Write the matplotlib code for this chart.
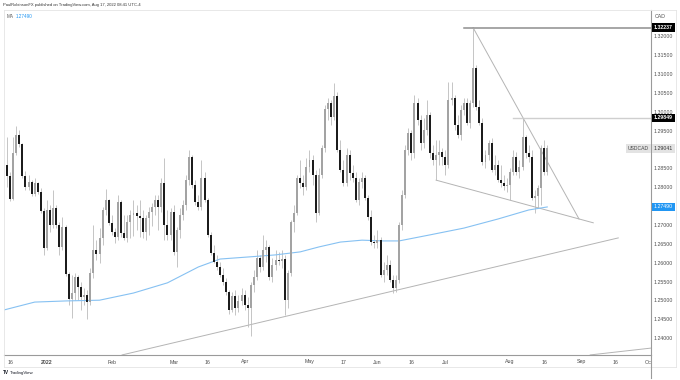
import matplotlib
matplotlib.use('Agg')
import matplotlib.pyplot as plt
from matplotlib.transforms import Bbox, blended_transform_factory
from matplotlib.lines import Line2D
import numpy as np
import pandas as pd

plt.rcParams['font.family'] = ['Liberation Sans', 'DejaVu Sans']

# daily USDCAD bars, Dec 15 2021 .. Aug 17 2022
dates = pd.bdate_range('2021-12-15', '2022-08-17')

opens = [1.2860, 1.2831, 1.2770, 1.2892, 1.2940, 1.2916, 1.2831, 1.2802, 1.2815, 1.2783,
         1.2812, 1.2789, 1.2738, 1.2640, 1.2741, 1.2701, 1.2746, 1.2701, 1.2643, 1.2696,
         1.2571, 1.2505, 1.2521, 1.2563, 1.2537, 1.2510, 1.2516, 1.2497, 1.2574, 1.2635,
         1.2624, 1.2667, 1.2741, 1.2767, 1.2706, 1.2683, 1.2669, 1.2762, 1.2680, 1.2667,
         1.2709, 1.2728, 1.2733, 1.2725, 1.2720, 1.2683, 1.2720, 1.2736, 1.2749, 1.2767,
         1.2749, 1.2812, 1.2701, 1.2675, 1.2736, 1.2630, 1.2688, 1.2728, 1.2754, 1.2820,
         1.2881, 1.2807, 1.2762, 1.2749, 1.2826, 1.2767, 1.2675, 1.2627, 1.2603, 1.2590,
         1.2569, 1.2550, 1.2524, 1.2476, 1.2513, 1.2481, 1.2500, 1.2516, 1.2489, 1.2481,
         1.2542, 1.2563, 1.2614, 1.2590, 1.2635, 1.2643, 1.2563, 1.2595, 1.2609, 1.2606,
         1.2611, 1.2502, 1.2574, 1.2709, 1.2733, 1.2826, 1.2812, 1.2802, 1.2855, 1.2873,
         1.2834, 1.2733, 1.2834, 1.2905, 1.3008, 1.3024, 1.2987, 1.3043, 1.2900, 1.2847,
         1.2812, 1.2887, 1.2839, 1.2826, 1.2767, 1.2815, 1.2826, 1.2773, 1.2722, 1.2656,
         1.2653, 1.2661, 1.2569, 1.2582, 1.2595, 1.2555, 1.2534, 1.2555, 1.2701, 1.2781,
         1.2900, 1.2945, 1.2892, 1.3024, 1.2979, 1.2918, 1.2953, 1.2993, 1.2892, 1.2873,
         1.2887, 1.2895, 1.2881, 1.2860, 1.3032, 1.3038, 1.2966, 1.2940, 1.3006, 1.3024,
         1.2971, 1.3024, 1.3117, 1.3014, 1.2971, 1.2868, 1.2887, 1.2918, 1.2847, 1.2860,
         1.2820, 1.2812, 1.2804, 1.2807, 1.2842, 1.2881, 1.2842, 1.2855, 1.2934, 1.2892,
         1.2881, 1.2773, 1.2778, 1.2799, 1.2905, 1.2842]
highs = [1.2934, 1.2842, 1.2934, 1.2963, 1.2953, 1.2918, 1.2844, 1.2834, 1.2820, 1.2826,
         1.2815, 1.2799, 1.2746, 1.2767, 1.2754, 1.2794, 1.2754, 1.2709, 1.2722, 1.2701,
         1.2577, 1.2569, 1.2574, 1.2569, 1.2550, 1.2534, 1.2529, 1.2587, 1.2701, 1.2661,
         1.2693, 1.2749, 1.2797, 1.2770, 1.2728, 1.2693, 1.2781, 1.2767, 1.2728, 1.2728,
         1.2741, 1.2767, 1.2754, 1.2767, 1.2741, 1.2728, 1.2749, 1.2759, 1.2781, 1.2781,
         1.2826, 1.2879, 1.2741, 1.2746, 1.2754, 1.2696, 1.2746, 1.2767, 1.2834, 1.2900,
         1.2887, 1.2820, 1.2781, 1.2873, 1.2842, 1.2773, 1.2683, 1.2648, 1.2622, 1.2603,
         1.2587, 1.2561, 1.2529, 1.2524, 1.2529, 1.2516, 1.2534, 1.2529, 1.2510, 1.2550,
         1.2582, 1.2635, 1.2622, 1.2675, 1.2661, 1.2648, 1.2614, 1.2635, 1.2630, 1.2635,
         1.2622, 1.2582, 1.2714, 1.2754, 1.2834, 1.2873, 1.2834, 1.2879, 1.2900, 1.2887,
         1.2847, 1.2852, 1.2913, 1.3019, 1.3038, 1.3032, 1.3077, 1.3054, 1.2926, 1.2873,
         1.2905, 1.2900, 1.2860, 1.2842, 1.2826, 1.2842, 1.2834, 1.2781, 1.2741, 1.2675,
         1.2688, 1.2669, 1.2603, 1.2622, 1.2609, 1.2569, 1.2569, 1.2709, 1.2794, 1.2913,
         1.2958, 1.2953, 1.3046, 1.3038, 1.2993, 1.2985, 1.3032, 1.3001, 1.2913, 1.2926,
         1.2926, 1.2905, 1.2900, 1.3080, 1.3080, 1.3046, 1.2993, 1.3019, 1.3038, 1.3038,
         1.3032, 1.32237, 1.3125, 1.3032, 1.2985, 1.2900, 1.2926, 1.2932, 1.2887, 1.2873,
         1.2860, 1.2834, 1.2826, 1.2852, 1.2900, 1.2895, 1.2873, 1.29849, 1.2940, 1.2913,
         1.2900, 1.2794, 1.2807, 1.2913, 1.2926, 1.2913]
lows = [1.2802, 1.2765, 1.2767, 1.2887, 1.2908, 1.2826, 1.2794, 1.2794, 1.2778, 1.2778,
        1.2783, 1.2733, 1.2622, 1.2635, 1.2683, 1.2693, 1.2693, 1.2622, 1.2635, 1.2566,
        1.2489, 1.2455, 1.2502, 1.2502, 1.2476, 1.2489, 1.2452, 1.2489, 1.2561, 1.2609,
        1.2601, 1.2648, 1.2728, 1.2701, 1.2675, 1.2653, 1.2661, 1.2669, 1.2661, 1.2656,
        1.2667, 1.2672, 1.2688, 1.2669, 1.2667, 1.2661, 1.2675, 1.2699, 1.2728, 1.2688,
        1.2736, 1.2661, 1.2661, 1.2661, 1.2622, 1.2590, 1.2667, 1.2714, 1.2741, 1.2807,
        1.2799, 1.2754, 1.2741, 1.2741, 1.2762, 1.2669, 1.2622, 1.2601, 1.2582, 1.2563,
        1.2542, 1.2516, 1.2465, 1.2471, 1.2463, 1.2471, 1.2489, 1.2476, 1.2431, 1.2407,
        1.2524, 1.2555, 1.2577, 1.2582, 1.2603, 1.2555, 1.2550, 1.2582, 1.2595, 1.2587,
        1.2463, 1.2481, 1.2566, 1.2683, 1.2728, 1.2799, 1.2781, 1.2794, 1.2842, 1.2807,
        1.2709, 1.2728, 1.2826, 1.2895, 1.2979, 1.2966, 1.2979, 1.2895, 1.2842, 1.2804,
        1.2804, 1.2820, 1.2815, 1.2762, 1.2754, 1.2799, 1.2767, 1.2714, 1.2648, 1.2640,
        1.2640, 1.2563, 1.2550, 1.2569, 1.2550, 1.2521, 1.2524, 1.2548, 1.2688, 1.2773,
        1.2887, 1.2873, 1.2879, 1.2966, 1.2900, 1.2905, 1.2940, 1.2879, 1.2860, 1.2820,
        1.2860, 1.2860, 1.2834, 1.2852, 1.3019, 1.2953, 1.2932, 1.2926, 1.2993, 1.2966,
        1.2958, 1.3014, 1.3006, 1.2966, 1.2860, 1.2852, 1.2873, 1.2842, 1.2834, 1.2815,
        1.2802, 1.2794, 1.2789, 1.2767, 1.2834, 1.2834, 1.2826, 1.2847, 1.2879, 1.2868,
        1.2767, 1.2733, 1.2746, 1.2754, 1.2834, 1.2834]
closes = [1.2831, 1.2770, 1.2892, 1.2940, 1.2916, 1.2831, 1.2802, 1.2815, 1.2783, 1.2812,
          1.2789, 1.2738, 1.2640, 1.2741, 1.2701, 1.2746, 1.2701, 1.2643, 1.2696, 1.2571,
          1.2505, 1.2521, 1.2563, 1.2537, 1.2510, 1.2516, 1.2497, 1.2574, 1.2635, 1.2624,
          1.2667, 1.2741, 1.2767, 1.2706, 1.2683, 1.2669, 1.2762, 1.2680, 1.2667, 1.2709,
          1.2728, 1.2733, 1.2725, 1.2720, 1.2683, 1.2720, 1.2736, 1.2749, 1.2767, 1.2749,
          1.2812, 1.2701, 1.2675, 1.2736, 1.2630, 1.2688, 1.2728, 1.2754, 1.2820, 1.2881,
          1.2807, 1.2762, 1.2749, 1.2826, 1.2767, 1.2675, 1.2627, 1.2603, 1.2590, 1.2569,
          1.2550, 1.2524, 1.2476, 1.2513, 1.2481, 1.2500, 1.2516, 1.2489, 1.2481, 1.2542,
          1.2563, 1.2614, 1.2590, 1.2635, 1.2643, 1.2563, 1.2595, 1.2609, 1.2606, 1.2611,
          1.2502, 1.2574, 1.2709, 1.2733, 1.2826, 1.2812, 1.2802, 1.2855, 1.2873, 1.2834,
          1.2733, 1.2834, 1.2905, 1.3008, 1.3024, 1.2987, 1.3043, 1.2900, 1.2847, 1.2812,
          1.2887, 1.2839, 1.2826, 1.2767, 1.2815, 1.2826, 1.2773, 1.2722, 1.2656, 1.2653,
          1.2661, 1.2569, 1.2582, 1.2595, 1.2555, 1.2534, 1.2555, 1.2701, 1.2781, 1.2900,
          1.2945, 1.2892, 1.3024, 1.2979, 1.2918, 1.2953, 1.2993, 1.2892, 1.2873, 1.2887,
          1.2895, 1.2881, 1.2860, 1.3032, 1.3038, 1.2966, 1.2940, 1.3006, 1.3024, 1.2971,
          1.3024, 1.3117, 1.3014, 1.2971, 1.2868, 1.2887, 1.2918, 1.2847, 1.2860, 1.2820,
          1.2812, 1.2804, 1.2807, 1.2842, 1.2881, 1.2842, 1.2855, 1.2934, 1.2892, 1.2881,
          1.2773, 1.2778, 1.2799, 1.2905, 1.2842, 1.29041]

# moving average, read at a few bars
ma_bar = [-1, 9, 19, 30, 41, 52, 62, 69, 79, 87, 95, 101, 108, 115, 122, 127, 137, 148, 159, 169, 175]
ma_val = [1.2476, 1.2497, 1.2500, 1.2502, 1.2521, 1.2548, 1.2590, 1.2611, 1.2617, 1.2622, 1.2630,
          1.2643, 1.2656, 1.2661, 1.2659, 1.2659, 1.2675, 1.2693, 1.2717, 1.2741, 1.2749]

# drawn trend lines: (bar0, price0, bar1, price1)
top_level = 1.32237
mid_level = 1.29849
last_price = 1.29041
ma_last = 1.27490
falling_line = (151, 1.32237, 185.3, 1.2717)
wedge_line = (139, 1.2820, 189.9, 1.2707)
support_line = (37.3, 1.2357, 198, 1.2667)
lower_line = (188.9, 1.2357, 215, 1.2381)

# price scale labels (1.27500 and 1.29000 sit under the tags)
scale_prices = [1.24, 1.245, 1.25, 1.255, 1.26, 1.265, 1.27, 1.28, 1.285,
                1.295, 1.30, 1.305, 1.31, 1.315, 1.32]

tick_dates = ['2021-12-16', '2022-01-03', '2022-02-01', '2022-03-01', '2022-03-16', '2022-04-01',
              '2022-05-02', '2022-05-17', '2022-06-01', '2022-06-16', '2022-07-01', '2022-08-01',
              '2022-08-16', '2022-09-01', '2022-09-16', '2022-10-03']
tick_text = ['16', '2022', 'Feb', 'Mar', '16', 'Apr', 'May', '17', 'Jun', '16', 'Jul', 'Aug',
             '16', 'Sep', '16', 'Oct']

W, H = 680, 380
def fx(px):
    return px / W
def fy(py):
    return 1 - py / H

fig = plt.figure(figsize=(6.8, 3.8), dpi=100)
ax = fig.add_axes([fx(4), fy(355), (651 - 4) / W, (355 - 10) / H])

o = np.array(opens); h = np.array(highs); l = np.array(lows); c = np.array(closes)
x = np.arange(len(dates))
up = c >= o
body_col = np.where(up, '#a3a3a3', '#1c1c1c')

# candles
ax.vlines(x, l, h, color='#bcbcbc', lw=0.6, zorder=2)
ax.bar(x, np.maximum(np.abs(c - o), 0.00012), bottom=np.minimum(o, c), width=0.64,
       color=body_col, linewidth=0, zorder=3)

ax.plot(ma_bar, ma_val, color='#86c1f2', lw=0.8, zorder=2)

line_kw = dict(color='#b4b4b4', lw=0.7, zorder=1)
for seg in (falling_line, wedge_line, support_line, lower_line):
    ax.plot([seg[0], seg[2]], [seg[1], seg[3]], **line_kw)
ax.plot([148.1, 215], [top_level, top_level], color='#8e8e8e', lw=1.1, zorder=1)
ax.plot([163.9, 215], [mid_level, mid_level], color='#cfcfcf', lw=1.0, zorder=1)

ax.set_xlim(-0.94, 208.6)
ax.set_ylim(1.235682, 1.327073)
ax.set_xticks([]); ax.set_yticks([])
for side in ('top', 'left'):
    ax.spines[side].set_color('#e4e4e4'); ax.spines[side].set_linewidth(0.6)
for side in ('right', 'bottom'):
    ax.spines[side].set_color('#9a9a9a'); ax.spines[side].set_linewidth(0.8)

# price scale on the right
ytr = blended_transform_factory(ax.transAxes, ax.transData)
xr = (654 - 4) / 647
for p in scale_prices:
    ax.text(xr, p, f'{p:.5f}', transform=ytr, fontsize=3.8, color='#4d4d4d',
            va='center', ha='left', clip_on=False, zorder=4)

def price_tag(val, text, fc, tc, weight='normal'):
    ax.text(xr, val, text, transform=ytr, fontsize=3.8, color=tc, va='center', ha='left',
            fontweight=weight, clip_on=False, zorder=6,
            bbox=dict(boxstyle='square,pad=0.35', fc=fc, ec='none'))

price_tag(top_level, f'{top_level:.5f}', 'black', 'white', 'bold')
price_tag(mid_level, f'{mid_level:.5f}', 'black', 'white', 'bold')
price_tag(last_price, f'{last_price:.5f}', '#e3e3e3', '#333333')
price_tag(ma_last, f'{ma_last:.5f}', '#2196f3', 'white')
ax.text((628 - 4) / 647, last_price, 'USDCAD', transform=ytr, fontsize=3.6, color='#444444',
        va='center', ha='left', clip_on=False, zorder=6,
        bbox=dict(boxstyle='square,pad=0.35', fc='#e3e3e3', ec='none'))
fig.text(fx(655), fy(16), 'CAD', fontsize=3.8, color='#555555', va='center')

# time scale
full_range = pd.bdate_range('2021-12-15', '2022-10-10')
xtr = blended_transform_factory(ax.transData, ax.transAxes)
clip = Bbox.from_extents(0, 0, 650.5, H)
for d, t in zip(tick_dates, tick_text):
    pos = full_range.get_loc(pd.Timestamp(d))
    txt = ax.text(pos, -7 / 345, t, transform=xtr, fontsize=3.8, color='#4d4d4d',
                  ha='center', va='center', fontweight='bold' if t == '2022' else 'normal',
                  clip_on=False)
    if t == 'Oct':
        txt.set_clip_box(clip)
        txt.set_clip_on(True)

# frame around the panel
fig.add_artist(Line2D([fx(4), fx(676)], [fy(367), fy(367)], color='#e4e4e4', lw=0.6))
fig.add_artist(Line2D([fx(676), fx(676)], [fy(10), fy(367)], color='#e4e4e4', lw=0.6))
fig.add_artist(Line2D([fx(651), fx(676)], [fy(10), fy(10)], color='#e4e4e4', lw=0.6))
fig.add_artist(Line2D([fx(4), fx(4)], [fy(355), fy(367)], color='#e4e4e4', lw=0.6))
fig.add_artist(Line2D([fx(651), fx(651)], [fy(355), fy(378)], color='#9a9a9a', lw=0.8))

fig.text(fx(3), fy(5), 'PaulRobinsonFX published on TradingView.com, Aug 17, 2022 08:41 UTC-4',
         fontsize=3.0, color='#333333', va='center')
fig.text(fx(7), fy(16), 'MA', fontsize=3.3, color='#555555', va='center')
fig.text(fx(16), fy(16), f'{ma_last:.5f}', fontsize=3.3, color='#2196f3', va='center')
fig.text(fx(3), fy(373), 'TV', fontsize=3.4, color='#131722', va='center', fontweight='bold')
fig.text(fx(10), fy(373), 'TradingView', fontsize=3.2, color='#131722', va='center')

fig.savefig('out.png', dpi=100)
